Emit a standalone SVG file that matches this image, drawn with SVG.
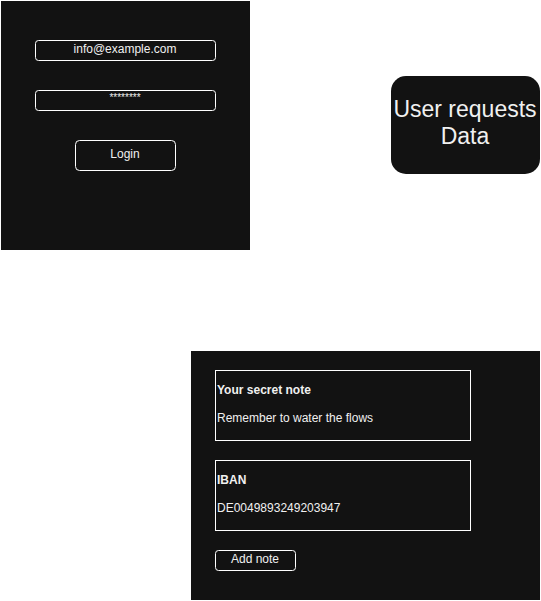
<svg xmlns="http://www.w3.org/2000/svg" width="541" height="601" viewBox="0 0 541 601">
<style>
.panel{fill:#121212;}
.ctl{fill:#121212;stroke:#ffffff;stroke-width:1;}
.t{font-family:"Liberation Sans",Arial,sans-serif;font-size:12px;fill:#f0f0f0;}
.c{text-anchor:middle;}
.b{font-weight:bold;}
.big{font-family:"Liberation Sans",Arial,sans-serif;font-size:23px;fill:#f0f0f0;text-anchor:middle;}
</style>
<rect width="541" height="601" fill="#ffffff"/>
<g id="login-screen">
<rect class="panel" x="1" y="1" width="249" height="249"/>
<g id="email-input"><rect class="ctl" x="35.5" y="40.5" width="180" height="20" rx="3"/><text class="t c" x="125" y="53">info@example.com</text></g>
<g id="password-input"><rect class="ctl" x="35.5" y="90.5" width="180" height="20" rx="3"/><text class="t c" x="125" y="101" style="font-size:10px">********</text></g>
<g id="login-button"><rect class="ctl" x="75.5" y="140.5" width="100" height="30" rx="4"/><text class="t c" x="125" y="158">Login</text></g>
</g>
<g id="user-requests-data">
<rect class="panel" x="391" y="76" width="149" height="98" rx="15"/>
<text class="big" x="465" y="117">User requests</text>
<text class="big" x="465" y="144">Data</text>
</g>
<g id="data-screen">
<rect class="panel" x="191" y="351" width="349" height="249"/>
<g id="secret-note"><rect class="ctl" x="215.5" y="370.5" width="255" height="70"/>
<text class="t b" x="217" y="394">Your secret note</text>
<text class="t" x="217" y="422">Remember to water the flows</text></g>
<g id="iban"><rect class="ctl" x="215.5" y="460.5" width="255" height="70"/>
<text class="t b" x="217" y="484">IBAN</text>
<text class="t" x="217" y="512">DE0049893249203947</text></g>
<g id="add-note-button"><rect class="ctl" x="215.5" y="550.5" width="80" height="20" rx="3"/><text class="t c" x="255" y="563">Add note</text></g>
</g>
<g id="connectors"></g>
</svg>
